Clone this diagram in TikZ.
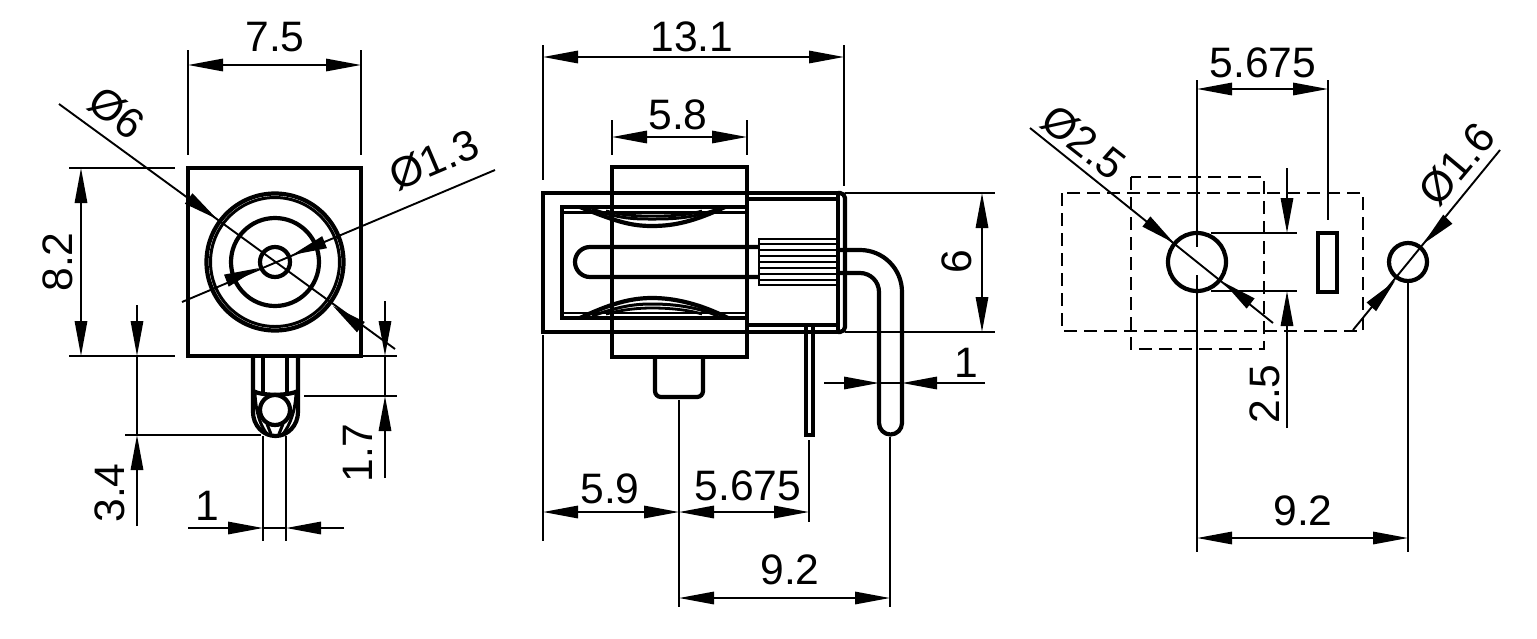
\documentclass[tikz,border=0pt]{standalone}
\usepackage{fontspec}
\setmainfont{Liberation Sans}
\usetikzlibrary{arrows.meta}
\tikzset{
  dimline/.style={line width=0.95pt,line cap=butt},
  body/.style={line width=2.1pt,line join=miter},
  fine/.style={line width=1.2pt},
  hidden/.style={line width=1.2pt,dash pattern=on 6.5pt off 3.5pt},
  tip/.style={-{Triangle[length=17.5pt,width=6.2pt,sep=0pt]},line width=0.95pt},
  both/.style={{Triangle[length=17.5pt,width=6.2pt]}-{Triangle[length=17.5pt,width=6.2pt]},line width=0.95pt},
  lbl/.style={font=\fontsize{21.3}{24}\selectfont,inner sep=0pt,text=black},
}
\begin{document}
\begin{tikzpicture}[x=0.5pt,y=-0.5pt]
\useasboundingbox (0,0) rectangle (1537,638);

%% ---------- left view
\draw[body] (188,168) rectangle (361,356);
\draw[line width=2.1pt] (275,262) circle (68.5);
\draw[line width=1.5pt] (275,262) circle (64.5);
\draw[body] (275,262) circle (44);
\draw[body] (275,262) circle (15);
% pin
\draw[body] (253,356) -- (253,412) arc (180:0:22.5 and 24) -- (298,356);
\draw[line width=1.6pt] (263,356) -- (263,393) (287,356) -- (287,393);
\draw[body] (253,391) .. controls (262,396) and (288,396) .. (298,391);
\draw[body] (275,410) circle (15);
\draw[line width=1.5pt] (255,394) .. controls (256,412) and (260,425) .. (267,434);
\draw[line width=1.5pt] (296,394) .. controls (295,412) and (290,425) .. (283,434);
\draw[line width=1.5pt] (267,424) -- (271,434) (283,424) -- (279,434);
% dimensions
\draw[dimline] (188,50) -- (188,155) (361,50) -- (361,155);
\draw[both] (188,65) -- (361,65);
\node[lbl] (a75) at (275,37) {7.5};
\draw[dimline] (69,168) -- (175,168) (69,356) -- (175,356);
\draw[both] (81,168) -- (81,356);
\node[lbl,rotate=90] (a82) at (58,262) {8.2};
\draw[dimline] (59,104) -- (395,349);
\draw[tip] (188,198) -- (217,219);
\draw[tip] (362,328) -- (333,306);
\node[lbl,rotate=-37] (a6) at (117,113) {Ø6};
\draw[dimline] (495,170) -- (182,302);
\draw[tip] (325,242) -- (292,255);
\draw[tip] (228,280) -- (259,268);
\node[lbl,rotate=23] (a13) at (434,160) {Ø1.3};
% 3.4
\draw[tip] (137,305) -- (137,356);
\draw[tip] (137,526) -- (137,435);
\draw[dimline] (137,356) -- (137,435);
\draw[dimline] (125,435) -- (261,435);
\node[lbl,rotate=90] (a34) at (110,493) {3.4};
% 1.7
\draw[dimline] (361,356) -- (397,356) (304,396) -- (397,396);
\draw[tip] (385,301) -- (385,356);
\draw[tip] (385,478) -- (385,396);
\draw[dimline] (385,356) -- (385,396);
\node[lbl,rotate=90] (a17) at (358,453) {1.7};
% 1
\draw[dimline] (263,436) -- (263,541) (286,436) -- (286,541);
\draw[tip] (188,528) -- (263,528);
\draw[tip] (344,528) -- (286,528);
\draw[dimline] (263,528) -- (286,528);
\node[lbl] (a1) at (207,506) {1};

%% ---------- middle view
\draw[body] (838,193) -- (543,193) -- (543,332) -- (838,332);
\draw[body] (747,199) -- (838,199) (747,325) -- (838,325);
\draw[body] (838,193) -- (838,332);
\draw[body] (838,193) -- (840,193) arc (-90:0:5) -- (845,327) arc (0:90:5) -- (838,332);
\draw[body] (747,207) -- (562,207) -- (562,318) -- (747,318);
\draw[fine] (562,212.5) -- (745,212.5) (562,313) -- (745,313);
% springs
\draw[body] (580,207) .. controls (615,221) and (630,226) .. (652,226) .. controls (675,226) and (695,221) .. (725,207);
\draw[line width=1.5pt] (592,209) .. controls (620,219) and (635,219) .. (652,219) .. controls (670,219) and (690,219) .. (718,209);
\draw[line width=1.4pt] (606,211) .. controls (625,216) and (640,216) .. (652,216) .. controls (665,216) and (685,216) .. (702,211);
\draw[body] (580,318) .. controls (610,304) and (630,298) .. (652,298) .. controls (675,298) and (700,304) .. (728,318);
\draw[line width=1.5pt] (592,316) .. controls (620,306) and (635,304) .. (652,304) .. controls (670,304) and (695,306) .. (718,316);
\draw[line width=1.4pt] (606,314) .. controls (625,309) and (640,308) .. (652,308) .. controls (665,308) and (685,309) .. (702,314);
% U contact
\draw[body] (759,247) -- (590,247) arc (-90:-270:15) -- (759,277);
% overlay rect
\draw[body] (612,167) rectangle (747,357);
\draw[body] (655,357) -- (655,391) arc (180:90:6) -- (697,397) arc (90:0:6) -- (703,357);
% knurl
\draw[line width=1.1pt] (836,239) -- (759,239) -- (759,285) -- (836,285);
\foreach \yy in {244,250,256,262,268,274,280} \draw[line width=1.1pt] (759,\yy) -- (836,\yy);
% right pin
\draw[body] (838,250) -- (860,250) arc (-90:0:42) -- (902,423) arc (0:180:11.5) -- (879,292) arc (0:-90:19) -- (838,273);
% thin pin
\draw[line width=1.6pt] (806,327) -- (806,435) -- (813,435) -- (813,327);
% dimensions
\draw[dimline] (543,45) -- (543,180) (844,45) -- (844,186);
\draw[both] (543,57) -- (844,57);
\node[lbl] (b131) at (692,37) {13.1};
\draw[dimline] (612,120) -- (612,155) (747,120) -- (747,155);
\draw[both] (612,137) -- (747,137);
\node[lbl] (b58) at (678,115) {5.8};
\draw[dimline] (845,193) -- (995,193) (845,332) -- (995,332);
\draw[both] (982,193) -- (982,332);
\node[lbl,rotate=90] (b6) at (957,262) {6};
\draw[tip] (824,383) -- (879,383);
\draw[tip] (985,383) -- (902,383);
\draw[dimline] (879,383) -- (902,383);
\node[lbl] (b1) at (966,363) {1};
\draw[dimline] (543,335) -- (543,541) (679,400) -- (679,607) (809,440) -- (809,522) (890,437) -- (890,607);
\draw[both] (543,512) -- (679,512);
\draw[both] (679,512) -- (809,512);
\node[lbl] (b59) at (610,489) {5.9};
\node[lbl] (b5675) at (748,486) {5.675};
\draw[both] (679,598) -- (890,598);
\node[lbl] (b92) at (790,570) {9.2};

%% ---------- right view
\draw[hidden] (1062,193) rectangle (1363,331);
\draw[hidden] (1131,177) rectangle (1264,349);
\draw[body] (1197,262) circle (29);
\draw[line width=1.9pt] (1318,233) rectangle (1337,292);
\draw[body] (1408,262) circle (19);
\draw[dimline] (1197,80) -- (1197,247) (1197,275) -- (1197,552) (1328,80) -- (1328,220) (1408,281) -- (1408,552);
\draw[both] (1197,89) -- (1328,89);
\node[lbl] (c5675) at (1263,63) {5.675};
\draw[dimline] (1030,128) -- (1273,323);
\draw[tip] (1147,222) -- (1174,243);
\draw[tip] (1250,303) -- (1223,282);
\node[lbl,rotate=-38] (c25) at (1084,142) {Ø2.5};
\draw[dimline] (1500,150) -- (1353,330);
\draw[tip] (1447,220) -- (1423,244);
\draw[tip] (1373,305) -- (1395,281);
\node[lbl,rotate=50] (c16) at (1457,164) {Ø1.6};
\draw[dimline] (1211,233) -- (1297,233) (1211,291) -- (1297,291);
\draw[tip] (1287,168) -- (1287,233);
\draw[tip] (1287,428) -- (1287,291);
\node[lbl,rotate=90] (c2) at (1265,394) {2.5};
\draw[both] (1197,538) -- (1408,538);
\node[lbl] (c92) at (1303,511) {9.2};
\end{tikzpicture}
\end{document}
